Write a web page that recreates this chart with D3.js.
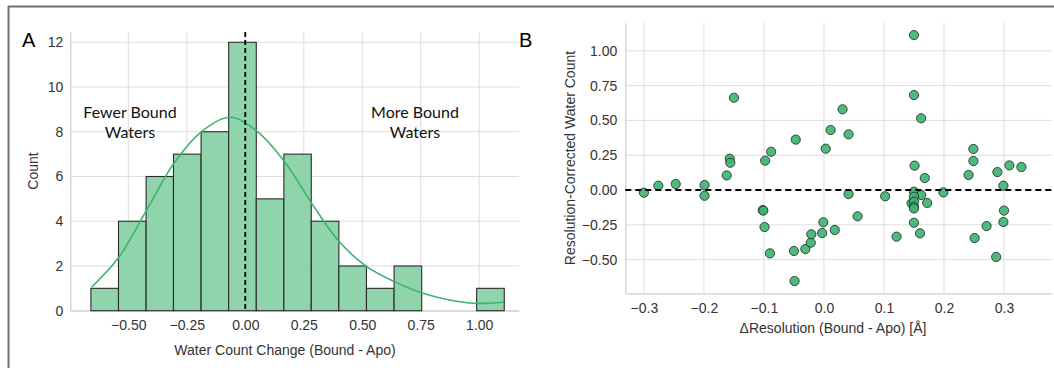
<!DOCTYPE html>
<html>
<head>
<meta charset="utf-8">
<script src="https://cdn.jsdelivr.net/npm/d3@7"></script>
<style>
  html, body { margin: 0; padding: 0; background: #fff; }
  svg { display: block; }
  text { font-family: "Liberation Sans", Arial, sans-serif; }
</style>
</head>
<body>
<svg id="chart" width="1054" height="368"></svg>
<script>
// ---------- Panel A data ----------
const binEdges = [-0.660, -0.542, -0.424, -0.307, -0.189, -0.071, 0.047, 0.165, 0.282, 0.400, 0.518, 0.636, 0.754, 0.871, 0.989, 1.107];
const binCounts = [1, 4, 6, 7, 8, 12, 5, 7, 4, 2, 1, 2, 0, 0, 1];
const kdeX = [-0.657, -0.539, -0.422, -0.305, -0.188, -0.067, 0.047, 0.168, 0.284, 0.402, 0.519, 0.637, 0.753, 0.872, 0.985, 1.106];
const kdeY = [1.05, 2.41, 4.50, 6.59, 8.00, 8.65, 8.05, 6.66, 4.80, 3.08, 1.97, 1.30, 0.80, 0.48, 0.33, 0.38];
const histXTicks = [-0.5, -0.25, 0, 0.25, 0.5, 0.75, 1.0];
const histYTicks = [0, 2, 4, 6, 8, 10, 12];

// ---------- Panel B data ----------
const dRes = [-0.300, -0.276, -0.247, -0.199, -0.199, -0.162, -0.157, -0.156, -0.150, -0.102,
              -0.101, -0.098, -0.099, -0.088, -0.090, -0.047, -0.050, -0.049, -0.031, -0.022,
              -0.021, -0.003, -0.001, 0.003, 0.011, 0.018, 0.031, 0.041, 0.041, 0.056,
              0.102, 0.121, 0.150, 0.150, 0.162, 0.151, 0.168, 0.150, 0.162, 0.150,
              0.146, 0.150, 0.150, 0.150, 0.172, 0.150, 0.160, 0.199, 0.241, 0.249,
              0.249, 0.251, 0.271, 0.287, 0.289, 0.299, 0.300, 0.299, 0.309, 0.329];
const corrWater = [-0.019, 0.031, 0.043, 0.036, -0.041, 0.105, 0.225, 0.196, 0.663, -0.144,
                   -0.148, 0.211, -0.266, 0.275, -0.455, 0.362, -0.438, -0.654, -0.424, -0.378,
                   -0.318, -0.309, -0.232, 0.297, 0.431, -0.287, 0.580, 0.400, -0.029, -0.189,
                   -0.045, -0.335, 1.113, 0.682, 0.515, 0.175, 0.086, -0.012, -0.036, -0.048,
                   -0.096, -0.084, -0.120, -0.132, -0.093, -0.235, -0.311, -0.017, 0.108, 0.295,
                   0.208, -0.345, -0.259, -0.481, 0.129, 0.031, -0.148, -0.230, 0.177, 0.165];
const scatXTicks = [-0.3, -0.2, -0.1, 0.0, 0.1, 0.2, 0.3];
const scatYTicks = [-0.5, -0.25, 0, 0.25, 0.5, 0.75, 1.0];

// ---------- styles ----------
const GRID = "#dedede", SPINE = "#cfcfcf", TICKC = "#333", GREEN = "#3cb371";

const svg = d3.select("#chart");

// outer frame (top and left)
svg.append("line").attr("x1", 8).attr("x2", 1054).attr("y1", 6.5).attr("y2", 6.5)
  .attr("stroke", "#707070").attr("stroke-width", 2);
svg.append("line").attr("x1", 8.5).attr("x2", 8.5).attr("y1", 6).attr("y2", 368)
  .attr("stroke", "#707070").attr("stroke-width", 2);

function gridAndAxes(g, x, y, xTicks, yTicks, xFmt, yFmt, xPad, yPad) {
  const [x0, x1] = x.range(), [y0, y1] = y.range();
  g.append("g").selectAll("line").data(xTicks).join("line")
    .attr("x1", d => x(d)).attr("x2", d => x(d)).attr("y1", y1).attr("y2", y0)
    .attr("stroke", GRID).attr("stroke-width", 1);
  g.append("g").selectAll("line").data(yTicks).join("line")
    .attr("x1", x0).attr("x2", x1).attr("y1", d => y(d)).attr("y2", d => y(d))
    .attr("stroke", GRID).attr("stroke-width", 1);
  const xa = g.append("g").attr("transform", `translate(0,${y0})`)
    .call(d3.axisBottom(x).tickValues(xTicks).tickFormat(d3.format(xFmt)).tickSize(0).tickPadding(xPad));
  const ya = g.append("g").attr("transform", `translate(${x0},0)`)
    .call(d3.axisLeft(y).tickValues(yTicks).tickFormat(d3.format(yFmt)).tickSize(0).tickPadding(yPad));
  [xa, ya].forEach(a => {
    a.select(".domain").attr("stroke", SPINE).attr("stroke-width", 1.2);
    a.selectAll("text").attr("fill", TICKC).style("font-size", "14px")
      .style("font-family", "'Liberation Sans', Arial, sans-serif");
  });
}

// ================= Panel A =================
const gA = svg.append("g");
const xA = d3.scaleLinear().domain([-0.748, 1.17]).range([70.3, 519]);
const yA = d3.scaleLinear().domain([0, 12.46]).range([310.7, 32]);
gridAndAxes(gA, xA, yA, histXTicks, histYTicks, ".2f", "d", 9, 7);

gA.append("g").selectAll("rect").data(binCounts).join("rect")
  .attr("x", (d, i) => xA(binEdges[i]))
  .attr("width", (d, i) => xA(binEdges[i + 1]) - xA(binEdges[i]))
  .attr("y", d => yA(d))
  .attr("height", d => yA(0) - yA(d))
  .attr("fill", d => d > 0 ? "#8fd4aa" : "none")
  .attr("stroke", d => d > 0 ? "#2b2b2b" : "none")
  .attr("stroke-width", 1.1);

const kdeLine = d3.line().x(d => xA(d[0])).y(d => yA(d[1])).curve(d3.curveCatmullRom.alpha(0.5));
gA.append("path").datum(kdeX.map((v, i) => [v, kdeY[i]]))
  .attr("d", kdeLine).attr("fill", "none").attr("stroke", GREEN).attr("stroke-width", 1.6);

gA.append("line").attr("x1", xA(0)).attr("x2", xA(0)).attr("y1", yA.range()[1]).attr("y2", yA(0))
  .attr("stroke", "#000").attr("stroke-width", 1.8).attr("stroke-dasharray", "5,3");

gA.append("text").attr("x", 285).attr("y", 355).attr("text-anchor", "middle")
  .attr("fill", TICKC).style("font-size", "14px").text("Water Count Change (Bound - Apo)");
gA.append("text").attr("transform", "translate(38,171) rotate(-90)").attr("text-anchor", "middle")
  .attr("fill", TICKC).style("font-size", "14px").text("Count");

const annFont = "Lato, 'Noto Sans', sans-serif";
[["Fewer Bound", 130, 118], ["Waters", 130, 138], ["More Bound", 415, 118], ["Waters", 415, 138]]
  .forEach(([t, x, y]) => gA.append("text").attr("x", x).attr("y", y).attr("text-anchor", "middle")
    .attr("fill", "#111").style("font-family", annFont).style("font-size", "16px").text(t));

svg.append("text").attr("x", 22).attr("y", 47).attr("fill", "#000").style("font-size", "20px").text("A");
svg.append("text").attr("x", 519).attr("y", 47).attr("fill", "#000").style("font-size", "20px").text("B");

// ================= Panel B =================
const gB = svg.append("g");
const xB = d3.scaleLinear().domain([-0.331, 0.38]).range([625.3, 1052]);
const yB = d3.scaleLinear().domain([-0.742, 1.202]).range([293.3, 22.7]);
gridAndAxes(gB, xB, yB, scatXTicks, scatYTicks, ".1f", ".2f", 10, 8);

gB.append("g").selectAll("circle").data(dRes).join("circle")
  .attr("cx", d => xB(d)).attr("cy", (d, i) => yB(corrWater[i])).attr("r", 4.6)
  .attr("fill", GREEN).attr("fill-opacity", 0.9)
  .attr("stroke", "#1f2f25").attr("stroke-opacity", 0.85).attr("stroke-width", 1);

gB.append("line").attr("x1", xB.range()[0]).attr("x2", xB.range()[1]).attr("y1", yB(0)).attr("y2", yB(0))
  .attr("stroke", "#000").attr("stroke-width", 2).attr("stroke-dasharray", "6,4");

gB.append("text").attr("x", 833).attr("y", 333).attr("text-anchor", "middle")
  .attr("fill", TICKC).style("font-size", "14px").text("ΔResolution (Bound - Apo) [Å]");
gB.append("text").attr("transform", "translate(575,158) rotate(-90)").attr("text-anchor", "middle")
  .attr("fill", TICKC).style("font-size", "14px").text("Resolution-Corrected Water Count");
</script>
</body>
</html>
